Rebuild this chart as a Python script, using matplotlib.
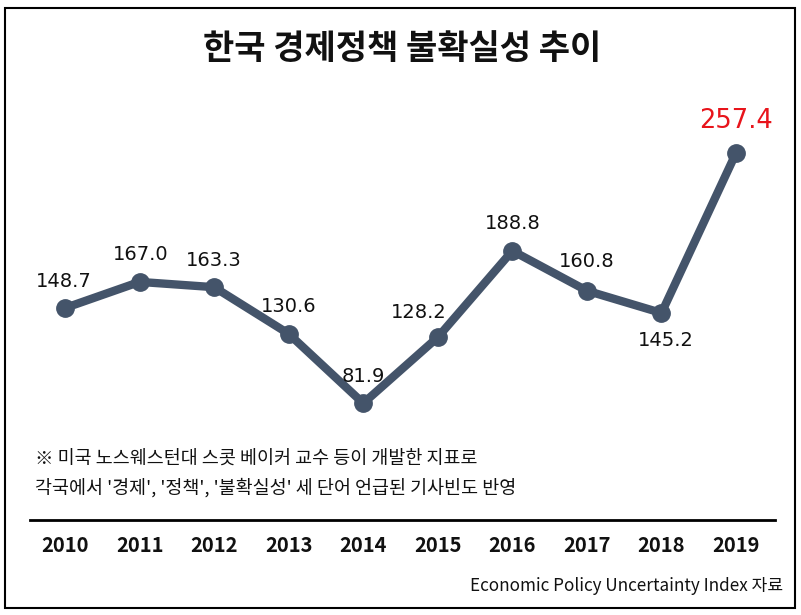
import matplotlib
matplotlib.use("Agg")
import matplotlib.pyplot as plt
from matplotlib.patches import Rectangle
from matplotlib.lines import Line2D

plt.rcParams['font.family'] = ['Noto Sans CJK KR', 'DejaVu Sans']

years = ['2010', '2011', '2012', '2013', '2014', '2015', '2016', '2017', '2018', '2019']
values = [148.7, 167.0, 163.3, 130.6, 81.9, 128.2, 188.8, 160.8, 145.2, 257.4]
title = '한국 경제정책 불확실성 추이'
note1 = '※ 미국 노스웨스턴대 스콧 베이커 교수 등이 개발한 지표로'
note2 = "각국에서 '경제', '정책', '불확실성' 세 단어 언급된 기사빈도 반영"
source = 'Economic Policy Uncertainty Index 자료'

W, H = 801, 615
fig = plt.figure(figsize=(W / 100, H / 100), dpi=100)
ax = fig.add_axes([0, 0, 1, 1])
ax.set_xlim(-0.872, 9.871)
ax.set_ylim(-66.6, 364.7)
ax.axis('off')

line_color = '#44546a'
x = list(range(len(values)))
ax.plot(x, values, color=line_color, lw=6, marker='o', ms=12.5,
        solid_capstyle='round', solid_joinstyle='round', zorder=3)

# label offsets in points (dx, dy)
offsets = [(-1, 19), (1, 20), (0, 19.5), (0, 20), (0, 19), (-14, 18), (0, 20), (0, 21), (3, -19.5), (0, 23)]
for i, (v, off) in enumerate(zip(values, offsets)):
    last = i == len(values) - 1
    ax.annotate(f'{v:.1f}', (i, v), xytext=off, textcoords='offset points',
                ha='center', va='center', family='DejaVu Sans',
                fontsize=18.5 if last else 14,
                color='#e8141b' if last else '#111111', zorder=4)

# figure-level decorations (pixel coords -> figure fraction)
def fx(px):
    return px / W

def fy(py):
    return 1 - py / H

fig.patches.append(Rectangle((fx(5), fy(608)), fx(795) - fx(5), fy(8) - fy(608),
                             transform=fig.transFigure, fill=False,
                             edgecolor='black', lw=1.5))
fig.text(fx(402), fy(48), title, ha='center', va='center', fontsize=24.5,
         fontweight='bold', color='#111111')
fig.text(fx(35), fy(459), note1, ha='left', va='center', fontsize=13.3, color='#111111')
fig.text(fx(35), fy(488), note2, ha='left', va='center', fontsize=13.3, color='#111111')
fig.lines.append(Line2D([fx(30), fx(775)], [fy(520), fy(520)],
                        transform=fig.transFigure, color='black', lw=2))
for i, yr in enumerate(years):
    xp = ax.transData.transform((i, 0))[0] / W
    fig.text(xp, fy(545), yr, ha='center', va='center', fontsize=14.5,
             fontweight='bold', color='#111111')
fig.text(fx(783), fy(586), source, ha='right', va='center', fontsize=12.3, color='#111111')

fig.savefig('out.png', dpi=100)
